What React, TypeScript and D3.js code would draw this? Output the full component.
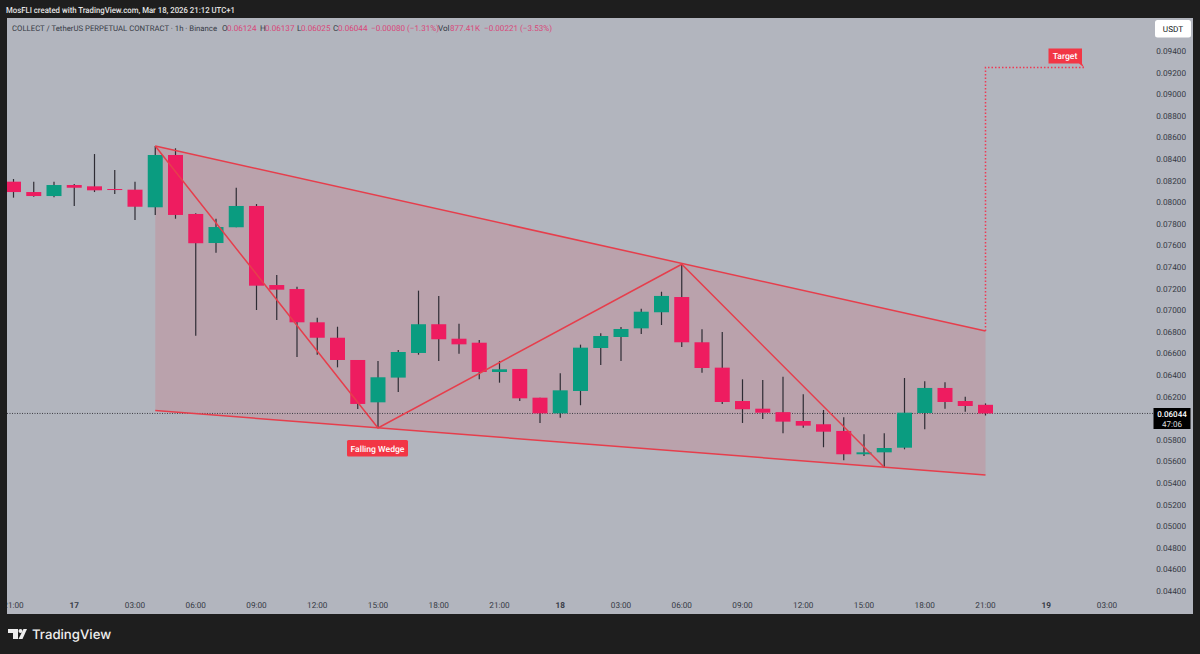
import React from "react";
import * as d3 from "d3";

const width = 1200;
const height = 654;

const opens = [0.0819,0.08094,0.08057,0.08159,0.08147,0.08122,0.08116,0.07953,0.08437,0.07891,0.07622,0.07768,0.07965,0.07233,0.07196,0.06888,0.06745,0.06539,0.06147,0.06376,0.06604,0.0687,0.06736,0.06699,0.06428,0.06456,0.0619,0.06045,0.06252,0.0665,0.06752,0.06832,0.06981,0.07122,0.06703,0.06468,0.06159,0.06088,0.06056,0.05974,0.05944,0.05882,0.05666,0.05684,0.05727,0.06048,0.0628,0.06159,0.06124];
const highs = [0.08215,0.0819,0.0819,0.08169,0.08446,0.08298,0.0819,0.0852,0.08499,0.07897,0.07847,0.08134,0.07983,0.07326,0.07218,0.06931,0.06847,0.06539,0.0653,0.06632,0.07181,0.07132,0.06875,0.06724,0.0653,0.06456,0.0619,0.06416,0.06681,0.06786,0.06844,0.07014,0.07171,0.07425,0.06823,0.06798,0.0636,0.06354,0.06384,0.06221,0.06076,0.06008,0.05851,0.0586,0.06372,0.06342,0.06332,0.06199,0.06137];
const lows = [0.08042,0.0805,0.08045,0.07965,0.08094,0.08076,0.07835,0.07882,0.07847,0.06764,0.07532,0.07768,0.07002,0.06909,0.06567,0.06588,0.06471,0.06085,0.05912,0.06243,0.06588,0.0653,0.06597,0.0636,0.06329,0.06159,0.05956,0.06005,0.0612,0.06493,0.0653,0.0678,0.06863,0.06659,0.06421,0.06132,0.05956,0.05993,0.05861,0.05912,0.05731,0.0561,0.0565,0.05546,0.05712,0.05897,0.06088,0.0606,0.06025];
const closes = [0.08094,0.08057,0.08159,0.08134,0.0811,0.08116,0.07958,0.08437,0.07882,0.0762,0.0777,0.07965,0.07227,0.0719,0.06888,0.06745,0.06539,0.06132,0.06379,0.06613,0.0687,0.06731,0.06684,0.06428,0.06453,0.06184,0.06045,0.06258,0.06653,0.06761,0.06826,0.06986,0.07132,0.06703,0.06465,0.0615,0.06083,0.06051,0.05968,0.05931,0.05875,0.05666,0.05684,0.05724,0.06051,0.0628,0.0615,0.06113,0.06044];

const priceTicks = [0.094,0.092,0.09,0.088,0.086,0.084,0.082,0.08,0.078,0.076,0.074,0.072,0.07,0.068,0.066,0.064,0.062,0.058,0.056,0.054,0.052,0.05,0.048,0.046,0.044];
const timeTicks: [number, string][] = [[0,"21:00"],[3,"17"],[6,"03:00"],[9,"06:00"],[12,"09:00"],[15,"12:00"],[18,"15:00"],[21,"18:00"],[24,"21:00"],[27,"18"],[30,"03:00"],[33,"06:00"],[36,"09:00"],[39,"12:00"],[42,"15:00"],[45,"18:00"],[48,"21:00"],[51,"19"],[54,"03:00"]];

// drawing tools, [bar index, price]
const wedgeTop: [number, number][] = [[7,0.0852],[48,0.06807]];
const wedgeBottom: [number, number][] = [[7,0.06071],[48,0.05474]];
const zigzag: [number, number][] = [[7,0.0852],[18,0.05909],[33,0.07425],[43,0.05546]];
const targetPath: [number, number][] = [[48,0.06807],[48,0.09247],[52.86,0.09247]];

const x = d3.scaleLinear().domain([0, 48]).range([13.5, 985.5]);
const y = d3.scaleLinear().domain([0.094, 0.044]).range([51, 591]);
const line = d3.line<[number, number]>().x((d) => x(d[0])).y((d) => y(d[1]));

const UP = "#0a9c80";
const DOWN = "#ee1c60";
const RED = "#e63e4c";
const PINK = "#d9487a";
const DARK = "#363a45";
const uiFont = "Roboto, 'Noto Sans', sans-serif";
const candleW = 15;

const legend: [number, string, string][] = [
  [222, "O", DARK], [227, "0.06124", PINK],
  [260, "H", DARK], [265, "0.06137", PINK],
  [297, "L", DARK], [301, "0.06025", PINK],
  [333, "C", DARK], [338, "0.06044", PINK],
  [371, "\u22120.00080 (\u22121.31%)", PINK],
  [438, "Vol", DARK], [450, "877.41K", PINK],
  [484, "\u22120.00221 (\u22123.53%)", PINK],
];

export default function App() {
  const wedgeArea = line([...wedgeTop, wedgeBottom[1], wedgeBottom[0]]) + "Z";
  const lastY = y(closes[closes.length - 1]);

  return (
    <svg width={width} height={height} style={{ position: "absolute", left: 0, top: 0, textRendering: "geometricPrecision" }} fontFamily={uiFont}>
      <rect width={width} height={height} fill="#1e1e1e" />
      <rect x={7} y={18} width={1186} height={596} fill="#b2b5be" />

      <text x={6} y={12.5} fontSize={8.3} fontWeight={500} fill="#e4e4e4" textLength={229} lengthAdjust="spacingAndGlyphs">MosFLI created with TradingView.com, Mar 18, 2026 21:12 UTC+1</text>
      <text x={12} y={30.5} fontSize={7.8} fill={DARK} textLength={205} lengthAdjust="spacingAndGlyphs">COLLECT / TetherUS PERPETUAL CONTRACT · 1h · Binance</text>
      {legend.map(([lx, t, c], i) => (
        <text key={i} x={lx} y={30.5} fontSize={8.1} fill={c}>{t}</text>
      ))}

      <path d={wedgeArea} fill="#e8394a" fillOpacity={0.15} />

      <line x1={7} x2={1153} y1={lastY} y2={lastY} stroke="#3d3d45" strokeWidth={1} strokeDasharray="1 1.5" />

      {opens.map((o, i) => {
        const c = closes[i];
        const col = c >= o ? UP : DOWN;
        const top = y(Math.max(o, c));
        const bot = y(Math.min(o, c));
        return (
          <g key={i}>
            <line x1={x(i)} x2={x(i)} y1={y(highs[i])} y2={y(lows[i])} stroke="#2e2c34" strokeWidth={1.2} />
            <rect x={Math.max(7, x(i) - candleW / 2)} y={top} width={i === 0 ? x(i) + candleW / 2 - 7 : candleW} height={Math.max(bot - top, 1)} fill={col} />
          </g>
        );
      })}

      <path d={line(wedgeTop)!} fill="none" stroke={RED} strokeWidth={1.5} />
      <path d={line(wedgeBottom)!} fill="none" stroke={RED} strokeWidth={1.5} />
      <path d={line(zigzag)!} fill="none" stroke={RED} strokeWidth={1.5} />
      <path d={line(targetPath)!} fill="none" stroke="#ee3a55" strokeWidth={1.5} strokeDasharray="1.5 2" />

      <rect x={347} y={440} width={61} height={16.5} rx={1.5} fill="#f23645" />
      <text x={377.5} y={451.5} fontSize={8.6} fontWeight={500} fill="#fff" textAnchor="middle">Falling Wedge</text>

      <path d="M1048.5 48.5h33.5v15l2 4l-5 -4h-30.5z" fill="#f23645" />
      <text x={1065} y={59} fontSize={8.6} fontWeight={500} fill="#fff" textAnchor="middle">Target</text>

      {priceTicks.map((p) => (
        <text key={p} x={1186} y={y(p) + 3} fontSize={8.2} fill={DARK} textAnchor="end">{p.toFixed(5)}</text>
      ))}
      <clipPath id="timeClip"><rect x={7} y={590} width={1186} height={24} /></clipPath>
      {timeTicks.map(([i, t], k) => (
        <text key={k} x={x(i)} y={608} fontSize={8.2} fill={DARK} fontWeight={t.length < 3 ? 700 : 400} textAnchor="middle" clipPath="url(#timeClip)">{t}</text>
      ))}

      <rect x={1155} y={20} width={36} height={17.5} rx={2.5} fill="#fff" />
      <text x={1173} y={32} fontSize={8.2} fill="#131722" textAnchor="middle">USDT</text>

      <rect x={1153.5} y={408} width={37} height={21} fill="#000" />
      <text x={1172} y={416.5} fontSize={8} fontWeight={500} fill="#fff" textAnchor="middle">0.06044</text>
      <text x={1172} y={426.5} fontSize={8} fill="#dcdcdc" textAnchor="middle">47:06</text>

      <path d="M8 629h10v10h-5v-6h-5z" fill="#eeeeee" />
      <circle cx={20.5} cy={631} r={2} fill="#eeeeee" />
      <path d="M23.5 629h3.5l-4.5 10h-4z" fill="#eeeeee" />
      <text x={32} y={639} fontSize={13.2} fontWeight={500} fill="#eeeeee" fontFamily="Inter, 'Noto Sans', sans-serif">TradingView</text>
    </svg>
  );
}
